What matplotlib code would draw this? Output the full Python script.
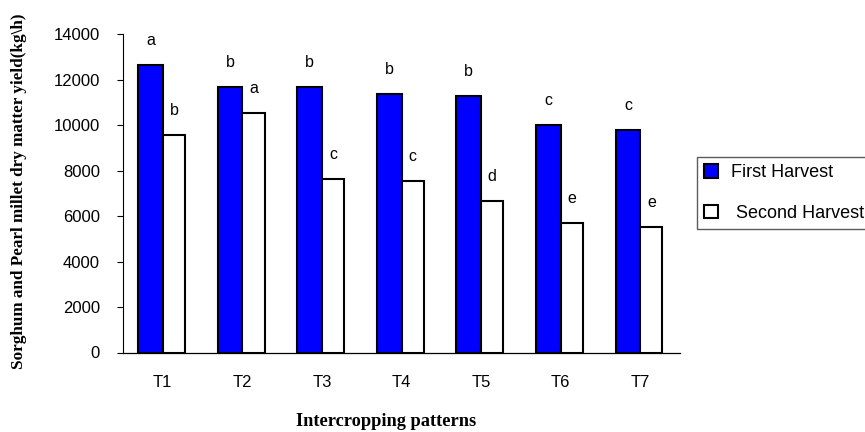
import matplotlib.pyplot as plt
import numpy as np

patterns = ['T1', 'T2', 'T3', 'T4', 'T5', 'T6', 'T7']
first_harvest = [12650, 11680, 11680, 11370, 11300, 10020, 9790]
second_harvest = [9580, 10550, 7630, 7555, 6650, 5680, 5520]
first_letters = ['a', 'b', 'b', 'b', 'b', 'c', 'c']
second_letters = ['b', 'a', 'c', 'c', 'd', 'e', 'e']
y_ticks = [0, 2000, 4000, 6000, 8000, 10000, 12000, 14000]

plt.rcParams['font.family'] = ['Liberation Sans', 'DejaVu Sans']

fig = plt.figure(figsize=(8.65, 4.32), dpi=100)
ax = fig.add_axes([123 / 865, 1 - 352.5 / 432, (680 - 123) / 865, (352.5 - 34.3) / 432])

x = np.arange(len(patterns))
b1 = ax.bar(x - 0.31, first_harvest, width=0.31, align='edge', color='#0000ff',
            edgecolor='black', linewidth=1.5, label='First Harvest', zorder=3)
b2 = ax.bar(x, second_harvest, width=0.28, align='edge', color='white',
            edgecolor='black', linewidth=1.5, label=' Second Harvest', zorder=3)

# significance letters above bars
for rect, lab in zip(b1, first_letters):
    ax.annotate(lab, (rect.get_x() + rect.get_width() / 2, rect.get_height()),
                xytext=(0, 14.5), textcoords='offset points', ha='center', va='baseline',
                fontsize=11.5)
for rect, lab in zip(b2, second_letters):
    ax.annotate(lab, (rect.get_x() + rect.get_width() / 2, rect.get_height()),
                xytext=(0, 14.5), textcoords='offset points', ha='center', va='baseline',
                fontsize=11.5)

ax.set_xlim(-0.5, len(patterns) - 0.5)
ax.set_ylim(0, 14000)
ax.set_yticks(y_ticks)
ax.set_xticks(x)
ax.set_xticklabels(patterns, fontsize=12)
ax.tick_params(axis='x', length=0, pad=16)
ax.tick_params(axis='y', direction='out', length=4.5, width=0.8, pad=12, labelsize=12)

for s in ['top', 'right']:
    ax.spines[s].set_visible(False)
ax.spines['left'].set_linewidth(0.8)
ax.spines['bottom'].set_linewidth(0.9)

fig.text(19 / 865, 1 - 191 / 432, 'Sorghum and Pearl millet dry matter yield(kg\\h)',
         rotation=90, ha='center', va='center', fontsize=12.3, fontweight='bold',
         family='Liberation Serif')
fig.text(386 / 865, 1 - 422 / 432, 'Intercropping patterns', ha='center', va='center',
         fontsize=13.2, fontweight='bold', family='Liberation Serif')

leg = fig.legend(handles=[b1, b2], loc='upper left', bbox_to_anchor=(697 / 865, 1 - 157 / 432),
                 fontsize=13, handlelength=0.75, handleheight=0.75, handletextpad=0.75,
                 labelspacing=1.3, borderpad=0.4, borderaxespad=0, fancybox=False,
                 frameon=True)
leg.get_frame().set_edgecolor('#333333')
leg.get_frame().set_linewidth(1.0)

fig.savefig('out.png', dpi=100)
